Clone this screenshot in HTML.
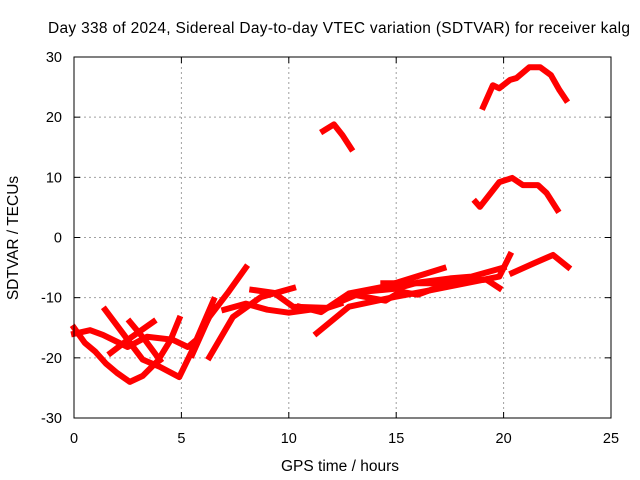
<!DOCTYPE html>
<html><head><meta charset="utf-8"><style>
body{margin:0;background:#fff;}
svg{display:block;font-family:"Liberation Sans",sans-serif;}
</style></head><body>
<svg id="chart" width="640" height="480" viewBox="0 0 640 480">
<rect width="640" height="480" fill="#fff"/>
<text x="339" y="33" font-size="15.5" text-anchor="middle" textLength="582">Day 338 of 2024, Sidereal Day-to-day VTEC variation (SDTVAR) for receiver kalg</text>
<g id="grid"></g>
<g id="series"></g>
<rect x="74" y="57" width="537" height="361" fill="none" stroke="#000" stroke-width="1"/>
<g id="axes"></g>
<text x="340" y="471" font-size="15.5" text-anchor="middle">GPS time / hours</text>
<text transform="translate(18,238) rotate(-90)" font-size="15.5" text-anchor="middle">SDTVAR / TECUs</text>
</svg>
<script>
const xTicks = [0, 5, 10, 15, 20, 25];
const yTicks = [-30, -20, -10, 0, 10, 20, 30];
const trackA = [[0,-15],[0.5,-17.5],[1,-19],[1.5,-21],[2,-22.5],[2.6,-24],[3.2,-23],[3.9,-20.5],[4.5,-17],[4.9,-13.5]];
const trackB = [[0,-16],[0.75,-15.4],[1.35,-16.2],[2.5,-18.2],[3.4,-16.5],[4.6,-17],[5.3,-18.2],[5.7,-17],[6.5,-10.4]];
const trackC = [[1.45,-12],[2.5,-17],[3.2,-20.3],[4,-21.5],[4.9,-23.2],[5.5,-18.8],[6.3,-13.2],[7.2,-9],[8,-5]];
const trackD = [[1.7,-19.2],[2.7,-16.5],[3.7,-14]];
const trackE = [[2.6,-14],[3.3,-17],[4,-20.4]];
const trackF = [[6.3,-19.9],[7.4,-13.2],[8.7,-9.9],[10.2,-8.4]];
const trackF2 = [[8.3,-8.7],[9.3,-9.2],[10.2,-11.5],[11.8,-11.7],[12.4,-11]];
const trackG = [[10.5,-11.5],[11.5,-12.4],[12.8,-9.3],[14.4,-8.2],[17.2,-5.1]];
const trackH = [[11.3,-15.9],[12.8,-11.5],[14.9,-9.9],[16.7,-8.7],[19.8,-6.5],[20.3,-2.9]];
const trackI = [[14.4,-7.6],[16.7,-7.6],[19.2,-7],[19.8,-8.4]];
const trackJ = [[20.4,-5.9],[21.4,-4.3],[22.3,-2.9],[23,-4.9]];
const trackK = [[11.6,17.7],[12.1,18.8],[12.5,17],[12.9,14.8]];
const trackL = [[18.7,5.9],[18.9,5.1],[19.8,9.2],[20.4,9.9],[20.9,8.7],[21.6,8.7],[22,7.4],[22.5,4.6]];
const trackM = [[19.05,21.7],[19.5,25.3],[19.8,24.8],[20.3,26.2],[20.6,26.5],[21.2,28.3],[21.7,28.3],[22.2,27],[22.6,24.5],[22.9,22.9]];
const trackN = [[12.5,-10.5],[13.5,-9],[15,-8.5],[16,-7.5],[17.5,-6.8],[18.5,-6.5],[19.5,-5.5],[20,-5]];
const trackO = [[13,-9.5],[14.5,-10.5],[15.2,-9],[16,-9.5],[17,-8.2]];
const trackP = [[5.5,-19.5],[6,-15.5],[6.5,-11.5]];
const trackQ = [[7,-12],[8,-11],[9,-12],[10,-12.5],[11,-12]];
const tracks = [trackA,trackB,trackC,trackD,trackE,trackF,trackF2,trackG,trackH,trackI,trackJ,trackK,trackL,trackM,trackN,trackO,trackP,trackQ];

const X0=74,X1=611,Y0=418,Y1=57;
const sx = h => X0 + (h-0)/(25-0)*(X1-X0);
const sy = v => Y0 - (v+30)/60*(Y0-Y1);
const NS='http://www.w3.org/2000/svg';
const grid=document.getElementById('grid'), axes=document.getElementById('axes'), series=document.getElementById('series');
function mk(tag,attrs,parent){const e=document.createElementNS(NS,tag);for(const k in attrs)e.setAttribute(k,attrs[k]);parent.appendChild(e);return e;}
xTicks.forEach(t=>{
  const x=sx(t);
  if(t>0&&t<25){const g=mk('line',{x1:x,x2:x,y1:Y1,y2:Y0,stroke:'#a0a0a0','stroke-dasharray':'2,3'},grid);
  
  }
  mk('line',{x1:x,x2:x,y1:Y0,y2:Y0-6,stroke:'#000'},axes);
  mk('line',{x1:x,x2:x,y1:Y1,y2:Y1+6,stroke:'#000'},axes);
  const l=mk('text',{x:x,y:Y0+25,'font-size':14.5,'text-anchor':'middle'},axes);
  l.textContent=t;
  
  
});
yTicks.forEach(t=>{
  const y=sy(t);
  if(t>-30&&t<30){const g=mk('line',{x1:X0,x2:X1,y1:y,y2:y,stroke:'#a0a0a0','stroke-dasharray':'2,3'},grid);
  
  }
  mk('line',{x1:X0,x2:X0+6,y1:y,y2:y,stroke:'#000'},axes);
  mk('line',{x1:X1,x2:X1-6,y1:y,y2:y,stroke:'#000'},axes);
  const l=mk('text',{x:X0-12,y:y+5,'font-size':14.5,'text-anchor':'end'},axes);
  l.textContent=t;
  
  
});
tracks.forEach(tr=>{
  const p=mk('polyline',{points:tr.map(d=>sx(d[0])+','+sy(d[1])).join(' '),fill:'none',stroke:'#ff0000','stroke-width':6,'stroke-linejoin':'round','stroke-linecap':'square'},series);
  
  
});
</script>
</body></html>
